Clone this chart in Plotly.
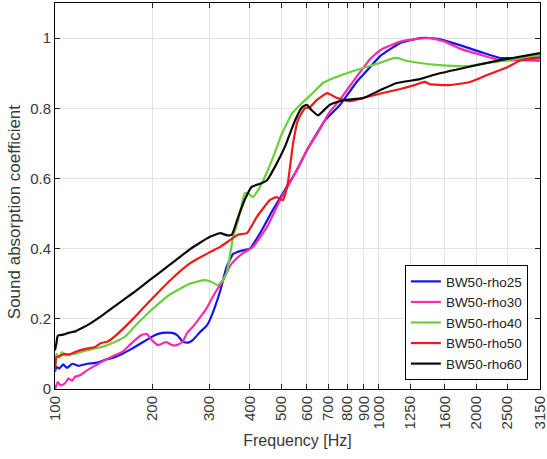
import plotly.graph_objects as go

# ---------------- data ----------------
f_rho25 = [100, 101, 103, 106, 109, 113, 118, 126, 135, 143, 152, 161, 173, 185, 196, 204, 215,
           230, 238, 249, 258, 267, 281, 294, 301, 312, 324, 339, 355, 365, 380, 400, 430, 471,
           520, 560, 600, 682, 760, 855, 940, 1014, 1166, 1342, 1450, 1542, 1783, 2070, 2375,
           2600, 2800, 3150]
a_rho25 = [0.05, 0.063, 0.058, 0.07, 0.06, 0.072, 0.066, 0.072, 0.075, 0.083, 0.09, 0.10, 0.115,
           0.131, 0.145, 0.154, 0.16, 0.16, 0.154, 0.134, 0.132, 0.14, 0.163, 0.18, 0.197, 0.234,
           0.28, 0.348, 0.385, 0.39, 0.395, 0.40, 0.444, 0.51, 0.576, 0.625, 0.68, 0.765, 0.81,
           0.875, 0.917, 0.95, 0.986, 1.0, 1.0, 0.997, 0.98, 0.96, 0.943, 0.943, 0.943, 0.945]

f_rho30 = [100, 102, 104, 107, 110, 113, 115, 120, 126, 135, 143, 152, 161, 170, 177, 185, 192,
           199, 208, 215, 221, 230, 238, 248, 256, 268, 281, 294, 307, 320, 331, 347, 355, 381,
           409, 452, 496, 544, 600, 658, 700, 760, 855, 940, 1014, 1166, 1313, 1450, 1600,
           1783, 2070, 2375, 2750, 3150]
a_rho30 = [0.0, 0.02, 0.01, 0.015, 0.03, 0.024, 0.034, 0.04, 0.054, 0.07, 0.083, 0.095, 0.105,
           0.125, 0.14, 0.154, 0.157, 0.14, 0.125, 0.13, 0.134, 0.125, 0.125, 0.135, 0.16, 0.18,
           0.205, 0.23, 0.262, 0.29, 0.31, 0.35, 0.362, 0.387, 0.405, 0.462, 0.538, 0.604, 0.68,
           0.74, 0.785, 0.825, 0.89, 0.94, 0.966, 0.99, 0.998, 1.0, 0.99, 0.97, 0.952, 0.937,
           0.937, 0.935]

f_rho40 = [100, 101, 103, 105, 108, 111, 115, 125, 132, 140, 153, 165, 177, 196, 227, 261, 290,
           305, 318, 330, 339, 347, 355, 368, 386, 398, 409, 420, 436, 468, 503, 541, 580, 620,
           673, 720, 797, 875, 1006, 1110, 1150, 1200, 1342, 1542, 1873, 2165, 2496, 3150]
a_rho40 = [0.06, 0.10, 0.09, 0.105, 0.095, 0.10, 0.10, 0.11, 0.115, 0.12, 0.134, 0.15, 0.18,
           0.22, 0.27, 0.30, 0.31, 0.305, 0.296, 0.31, 0.33, 0.38, 0.433, 0.48, 0.558, 0.555,
           0.547, 0.56, 0.587, 0.652, 0.729, 0.786, 0.815, 0.84, 0.872, 0.885, 0.90, 0.912,
           0.929, 0.943, 0.943, 0.937, 0.929, 0.923, 0.92, 0.929, 0.937, 0.952]

f_rho50 = [100, 101, 104, 107, 111, 115, 125, 133, 138, 145, 153, 173, 196, 227, 261, 301, 324,
           347, 368, 392, 420, 461, 484, 506, 524, 544, 563, 591, 613, 643, 693, 741, 815, 921,
           1014, 1166, 1290, 1390, 1436, 1656, 1914, 2165, 2496, 2750, 3150]
a_rho50 = [0.05, 0.09, 0.095, 0.10, 0.098, 0.105, 0.115, 0.12, 0.13, 0.135, 0.15, 0.197, 0.25,
           0.31, 0.358, 0.39, 0.405, 0.424, 0.44, 0.444, 0.49, 0.538, 0.547, 0.538, 0.587, 0.70,
           0.766, 0.80, 0.803, 0.823, 0.843, 0.83, 0.82, 0.832, 0.842, 0.855, 0.866, 0.875,
           0.869, 0.866, 0.875, 0.895, 0.917, 0.937, 0.943]

f_rho60 = [100, 101, 102, 106, 110, 116, 122, 126, 140, 155, 175, 196, 227, 261, 301, 324, 340,
           352, 368, 386, 405, 430, 452, 478, 513, 552, 580, 600, 620, 650, 670, 707, 778, 894,
           1014, 1138, 1342, 1475, 1873, 2375, 3150]
a_rho60 = [0.11, 0.13, 0.152, 0.155, 0.16, 0.165, 0.175, 0.182, 0.21, 0.24, 0.275, 0.31, 0.355,
           0.398, 0.434, 0.444, 0.438, 0.44, 0.49, 0.54, 0.576, 0.585, 0.595, 0.633, 0.69, 0.766,
           0.803, 0.81, 0.795, 0.78, 0.79, 0.81, 0.823, 0.829, 0.852, 0.872, 0.883, 0.895,
           0.917, 0.937, 0.957]

series_names = ["BW50-rho25", "BW50-rho30", "BW50-rho40", "BW50-rho50", "BW50-rho60"]
series_freqs = [f_rho25, f_rho30, f_rho40, f_rho50, f_rho60]
series_vals = [a_rho25, a_rho30, a_rho40, a_rho50, a_rho60]
series_colors = ["#1414f0", "#ff2aa8", "#6ccf3a", "#f01818", "#0a0a0a"]

x_ticks = [100, 200, 300, 400, 500, 600, 700, 800, 900, 1000, 1250, 1600, 2000, 2500, 3150]
y_ticks = [0, 0.2, 0.4, 0.6, 0.8, 1.0]
y_ticktext = ["0", "0.2", "0.4", "0.6", "0.8", "1"]

# ---------------- figure ----------------
fig = go.Figure()
for name, fx, vy, col in zip(series_names, series_freqs, series_vals, series_colors):
    fig.add_trace(go.Scatter(x=fx, y=vy, mode="lines", name=name,
                             line=dict(color=col, width=2.2, shape="spline", smoothing=0.4)))

font_family = "Liberation Sans, Arial, sans-serif"
fig.update_layout(
    width=547, height=459,
    margin=dict(l=55, r=7, t=3, b=70, autoexpand=False),
    paper_bgcolor="white", plot_bgcolor="white",
    font=dict(family=font_family, color="#383838", size=15),
    showlegend=True,
    legend=dict(x=0.975, xanchor="right", y=0.023, yanchor="bottom",
                bgcolor="white", bordercolor="#000000", borderwidth=1,
                font=dict(size=13.5, color="#222222"), tracegroupgap=0),
    annotations=[dict(text="Sound absorption coefficient", xref="paper", yref="paper",
                      x=-0.083, y=0.46, xanchor="center", yanchor="middle",
                      textangle=-90, showarrow=False,
                      font=dict(size=17, color="#383838", family=font_family))],
)
fig.update_xaxes(
    type="log", range=[2, 3.4985], tickvals=x_ticks, ticktext=[str(v) for v in x_ticks],
    tickangle=-90, ticklabeloverflow="allow", automargin=False,
    showgrid=True, gridcolor="#e3e3e3", gridwidth=1,
    showline=True, linecolor="#000000", linewidth=1, mirror="ticks",
    ticks="inside", ticklen=5, tickcolor="#222222",
    title=dict(text="Frequency [Hz]", font=dict(size=16), standoff=6),
    zeroline=False,
)
fig.update_yaxes(
    range=[0, 1.1], tickvals=y_ticks, ticktext=y_ticktext, automargin=False,
    showgrid=True, gridcolor="#e3e3e3", gridwidth=1,
    showline=True, linecolor="#000000", linewidth=1, mirror="ticks",
    ticks="inside", ticklen=5, tickcolor="#222222",
    zeroline=False,
)

fig.write_html("out.html")
